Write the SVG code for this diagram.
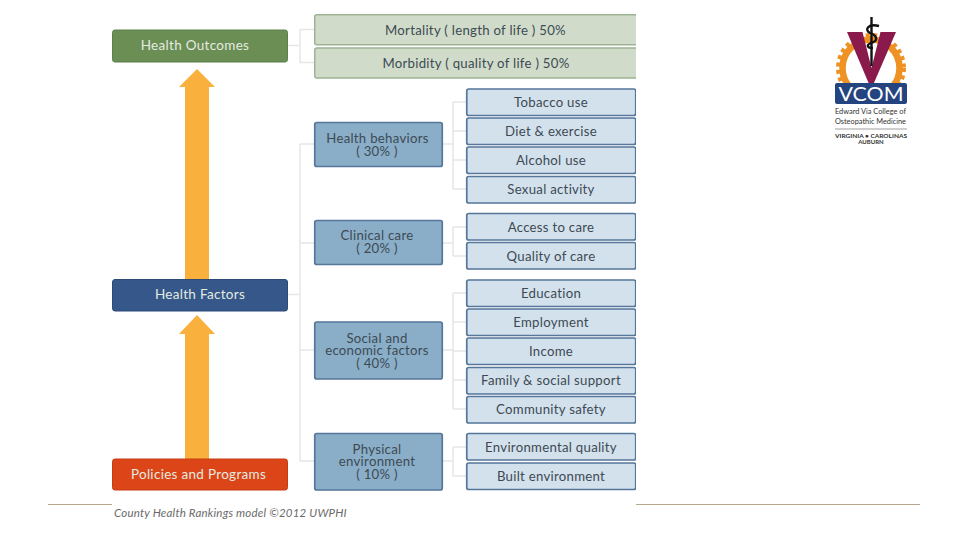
<svg xmlns="http://www.w3.org/2000/svg" width="960" height="540" viewBox="0 0 960 540">
<defs><style>
text{font-family:Lato,"Open Sans","Liberation Sans",sans-serif;text-anchor:middle}
.l{font-size:13.5px;fill:#e4ebe0;letter-spacing:.3px}
.m{font-size:13.2px;fill:#3d4a54;letter-spacing:.28px}
.g{fill:#d0dcc9;stroke:#9db394;stroke-width:1.5}
.b{fill:#d3e1ec;stroke:#56769a;stroke-width:1.7}
.c{fill:#8aaec8;stroke:#56769a;stroke-width:1.7}
.conn{fill:none;stroke:#e6e6e6;stroke-width:1.5}
.arr{fill:#f9b03d}
</style>
<clipPath id="gear"><rect x="830" y="30" width="82" height="54"/></clipPath>
</defs>
<rect width="960" height="540" fill="#fff"/>
<g id="footer-rule" fill="none" stroke="#b5a88c" stroke-width="1"><path d="M48 504.500H112M636 504.500H920"/></g>
<g id="connectors" class="conn">
<path d="M288 45.500H300M300 29.500H314M300 62.500H314M300 29.500V62.500"/>
<path d="M288 294.500H300M300 144H314M300 243H314M300 350H314M300 461H314M300 144V461"/>
<path d="M443 144H453M453 102H466M453 131H466M453 160H466M453 189H466M453 102V189"/>
<path d="M443 243H453M453 227H466M453 256H466M453 227V256"/>
<path d="M443 350H453M453 293H466M453 322H466M453 351H466M453 380H466M453 409H466M453 293V409"/>
<path d="M443 461H453M453 447H466M453 476H466M453 447V476"/>
<path class="arr" style="stroke:none" d="M197 69L215 87H209V280H185V87H179Z"/>
<path class="arr" style="stroke:none" d="M197 315L215 334H209V460H185V334H179Z"/>
</g>
<g id="health-outcomes"><rect x="112.500" y="30" width="175" height="32" rx="2.500" fill="#6b8e55" stroke="#5d7f4a"/><text class="l" x="195" y="50">Health Outcomes</text></g>
<g id="health-factors"><rect x="112.500" y="279.500" width="175" height="31.500" rx="2.500" fill="#35578a" stroke="#2c4a75"/><text class="l" x="200" y="299">Health Factors</text></g>
<g id="policies"><rect x="112.500" y="459" width="175" height="31" rx="2.500" fill="#dc4518" stroke="#c63c12"/><text class="l" x="198.500" y="478.500">Policies and Programs</text></g>
<g id="mortality"><rect class="g" x="314.750" y="14.750" width="325" height="30" rx="2"/><text class="m" x="475.500" y="34.500">Mortality ( length of life ) 50%</text></g>
<g id="morbidity"><rect class="g" x="314.750" y="48" width="325" height="30" rx="2"/><text class="m" x="476" y="67.500">Morbidity ( quality of life ) 50%</text></g>
<g id="health-behaviors"><rect class="c" x="314.750" y="122.500" width="127.500" height="44" rx="2"/><text class="m" y="143"><tspan x="377.500">Health behaviors</tspan><tspan x="377" dy="12.500">( 30% )</tspan></text></g>
<g id="clinical-care"><rect class="c" x="314.750" y="220.500" width="127.500" height="44" rx="2"/><text class="m" y="240"><tspan x="377">Clinical care</tspan><tspan x="377" dy="12.500">( 20% )</tspan></text></g>
<g id="social"><rect class="c" x="314.750" y="322" width="127.500" height="57" rx="2"/><text class="m" y="342.500"><tspan x="377">Social and</tspan><tspan x="377" dy="12.500">economic factors</tspan><tspan x="377" dy="12.500">( 40% )</tspan></text></g>
<g id="physical"><rect class="c" x="314.750" y="433.500" width="127.500" height="56.500" rx="2"/><text class="m" y="453.500"><tspan x="377">Physical</tspan><tspan x="377" dy="12.500">environment</tspan><tspan x="377" dy="12.500">( 10% )</tspan></text></g>
<g id="tobacco"><rect class="b" x="466.750" y="89" width="169" height="26.500" rx="2"/><text class="m" x="551" y="106.500">Tobacco use</text></g>
<g id="diet"><rect class="b" x="466.750" y="118" width="169" height="26.500" rx="2"/><text class="m" x="551" y="135.500">Diet &amp; exercise</text></g>
<g id="alcohol"><rect class="b" x="466.750" y="147" width="169" height="26.500" rx="2"/><text class="m" x="551" y="164.500">Alcohol use</text></g>
<g id="sexual"><rect class="b" x="466.750" y="176.500" width="169" height="26.500" rx="2"/><text class="m" x="551" y="193.500">Sexual activity</text></g>
<g id="access"><rect class="b" x="466.750" y="213.500" width="169" height="26.500" rx="2"/><text class="m" x="551" y="231.500">Access to care</text></g>
<g id="quality"><rect class="b" x="466.750" y="242.500" width="169" height="26.500" rx="2"/><text class="m" x="551" y="260.500">Quality of care</text></g>
<g id="education"><rect class="b" x="466.750" y="280" width="169" height="26.500" rx="2"/><text class="m" x="551" y="297.500">Education</text></g>
<g id="employment"><rect class="b" x="466.750" y="309" width="169" height="26.500" rx="2"/><text class="m" x="551" y="327">Employment</text></g>
<g id="income"><rect class="b" x="466.750" y="338" width="169" height="26.500" rx="2"/><text class="m" x="551" y="356">Income</text></g>
<g id="family"><rect class="b" x="466.750" y="367.500" width="169" height="26.500" rx="2"/><text class="m" x="551" y="385">Family &amp; social support</text></g>
<g id="community"><rect class="b" x="466.750" y="396.500" width="169" height="26.500" rx="2"/><text class="m" x="551" y="414">Community safety</text></g>
<g id="environmental"><rect class="b" x="466.750" y="433.500" width="169" height="26.500" rx="2"/><text class="m" x="551" y="451.500">Environmental quality</text></g>
<g id="built"><rect class="b" x="466.750" y="463" width="169" height="26.500" rx="2"/><text class="m" x="551" y="481">Built environment</text></g>
<rect x="636" y="0" width="8" height="500" fill="#fff"/>
<text x="230.500" y="517" style="font-size:11.500px;font-style:italic;fill:#6a6a6a;letter-spacing:.2px">County Health Rankings model ©2012 UWPHI</text>
<g id="logo">
<g clip-path="url(#gear)" fill="none" stroke="#ee9223">
<circle cx="871" cy="68" r="28.500" stroke-width="6.500"/>
<circle cx="871" cy="68" r="33" stroke-width="4" stroke-dasharray="4 3.500"/>
</g>
<path d="M847 32H862.500L871.500 68L880.500 32H896L873.500 84H869Z" fill="#8a1a4b"/>
<path d="M871.500 17V66" stroke="#111" stroke-width="2.400"/>
<path d="M879 26C868 23 864 30 870 33C878 36 878 41 871 43C866 45 867 48 873 48" fill="none" stroke="#111" stroke-width="2.400"/>
<rect x="835" y="83" width="72" height="21" rx="2" fill="#24447f"/>
<text x="871" y="100.500" textLength="65" lengthAdjust="spacingAndGlyphs" style="font-size:19px;fill:#fff">VCOM</text>
<text x="870.500" y="114" textLength="71" lengthAdjust="spacingAndGlyphs" style="font-size:8px;fill:#333">Edward Via College of</text>
<text x="870.500" y="124" textLength="71" lengthAdjust="spacingAndGlyphs" style="font-size:8px;fill:#333">Osteopathic Medicine</text>
<path d="M835 129H907" stroke="#777" stroke-width=".7"/>
<text x="871" y="137.500" textLength="72" lengthAdjust="spacingAndGlyphs" style="font-size:6px;font-weight:700;fill:#333">VIRGINIA • CAROLINAS</text>
<text x="871" y="144" style="font-size:6px;font-weight:700;fill:#333">AUBURN</text>
</g>
</svg>
